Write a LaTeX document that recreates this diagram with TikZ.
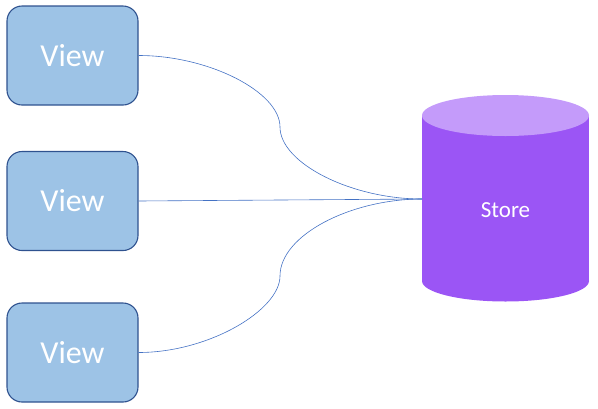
\documentclass[tikz,border=0pt]{standalone}
\usepackage{fontspec}
\setmainfont{Carlito}
\definecolor{viewfill}{RGB}{157,195,230}
\definecolor{viewline}{RGB}{47,82,143}
\definecolor{linkblue}{RGB}{68,114,196}
\definecolor{storebody}{RGB}{155,85,245}
\definecolor{storetop}{RGB}{196,155,250}
\begin{document}
\begin{tikzpicture}[x=1pt,y=-1pt,
  viewbox/.style={draw=viewline, line width=1.1pt, fill=viewfill, rounded corners=15pt,
    minimum width=131pt, minimum height=99pt, inner sep=0pt, text=white,
    font=\fontsize{32}{36}\selectfont},
  link/.style={draw=linkblue, line width=0.6pt}]
\useasboundingbox (0,0) rectangle (598,408);
% views
\node[viewbox] (v1) at (72.5,55.5) {View};
\node[viewbox] (v2) at (72.5,201) {View};
\node[viewbox] (v3) at (72.5,352.5) {View};
% store cylinder
\fill[storebody] (422,115.5) rectangle (589,281);
\fill[storebody] (505.5,281) ellipse [x radius=83.5, y radius=20.5];
\fill[storetop] (505.5,115.5) ellipse [x radius=83.5, y radius=20.5];
\node[text=white, font=\fontsize{23}{27}\selectfont] (store) at (505.5,210) {Store};
\coordinate (sin) at (422,199);
% connectors
\draw[link] (v1.east) .. controls (209,55.5) and (280,92) .. (280,127)
  .. controls (280,163) and (351,199) .. (sin);
\draw[link] (v2.east) -- (sin);
\draw[link] (v3.east) .. controls (209,352.5) and (280,310) .. (280,276)
  .. controls (280,235) and (351,199) .. (sin);
\end{tikzpicture}
\end{document}
